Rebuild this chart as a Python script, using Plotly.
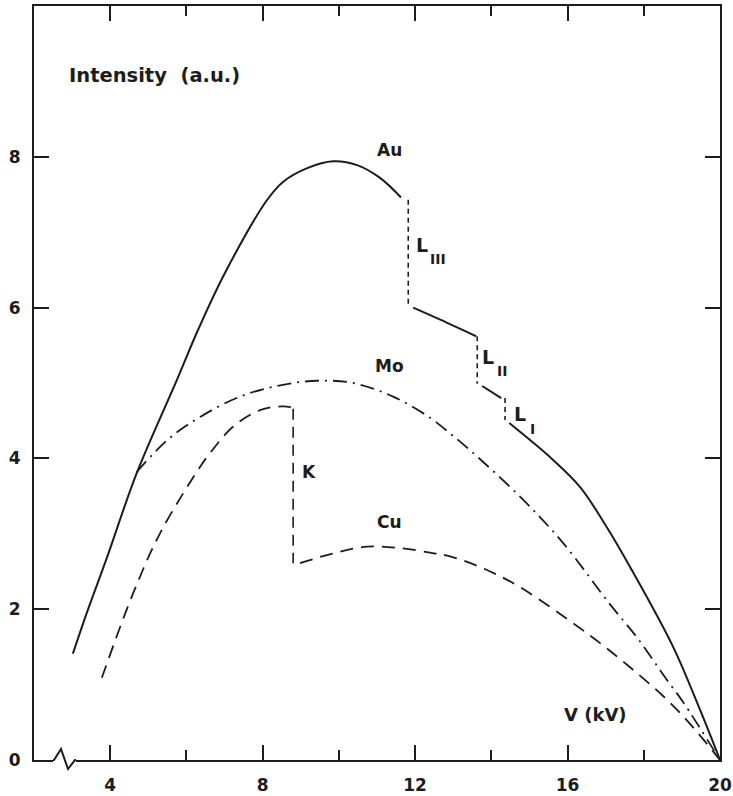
import plotly.graph_objects as go

# ---------------- data ----------------
# Au (solid) -- four segments separated by the L absorption edges
au_seg1_x = [3.02, 3.42, 3.89, 4.70, 5.75, 6.30, 7.01, 8.12, 8.54, 9.17, 9.85, 10.48, 11.08, 11.63]
au_seg1_y = [1.41, 2.00, 2.65, 3.81, 5.04, 5.70, 6.46, 7.43, 7.67, 7.85, 7.94, 7.89, 7.72, 7.46]
au_seg2_x = [11.95, 12.66, 13.60]
au_seg2_y = [6.00, 5.84, 5.62]
au_seg3_x = [13.76, 14.26]
au_seg3_y = [4.96, 4.80]
au_seg4_x = [14.47, 14.76, 15.60, 16.33, 16.99, 17.64, 18.77, 19.48, 20.0]
au_seg4_y = [4.47, 4.35, 3.99, 3.62, 3.12, 2.56, 1.50, 0.66, 0.0]
# Au absorption edges (dashed verticals): x, top, bottom
au_edge_x = [11.82, 13.63, 14.36]
au_edge_top = [7.43, 5.62, 4.80]
au_edge_bot = [6.03, 4.99, 4.51]

# Mo (dash-dot)
mo_x = [4.70, 5.49, 6.36, 7.41, 8.46, 9.43, 10.37, 11.42, 12.39, 12.92, 13.37, 14.76, 15.88, 17.12, 17.83, 18.61, 19.03, 20.0]
mo_y = [3.82, 4.24, 4.55, 4.82, 4.97, 5.03, 5.00, 4.82, 4.54, 4.33, 4.14, 3.49, 2.88, 2.06, 1.62, 1.06, 0.77, 0.0]

# Cu (dashed) -- two segments separated by the K edge
cu_seg1_x = [3.78, 4.60, 5.31, 6.36, 6.62, 7.22, 7.93, 8.50, 8.74]
cu_seg1_y = [1.09, 2.21, 3.01, 3.89, 4.07, 4.42, 4.64, 4.69, 4.68]
cu_seg2_x = [8.98, 9.85, 10.74, 11.61, 12.39, 12.92, 13.84, 14.76, 16.51, 17.64, 18.69, 19.40, 20.0]
cu_seg2_y = [2.61, 2.74, 2.83, 2.81, 2.75, 2.70, 2.53, 2.29, 1.68, 1.23, 0.76, 0.37, 0.0]
cu_edge_x = 8.80
cu_edge_top = 4.66
cu_edge_bot = 2.61

x_tick_vals = [4, 8, 12, 16, 20]
x_minor_vals = [6, 10, 14, 18]
y_tick_vals = [0, 2, 4, 6, 8]

INK = "#1c1c1c"
FONT = "DejaVu Sans"

fig = go.Figure()

def add_line(xs, ys, width, dash, shape="spline"):
    fig.add_trace(go.Scatter(
        x=xs, y=ys, mode="lines",
        line=dict(color=INK, width=width, dash=dash, shape=shape, smoothing=1.0),
        hoverinfo="skip", showlegend=False))

# Au
for sx, sy in [(au_seg1_x, au_seg1_y), (au_seg2_x, au_seg2_y),
               (au_seg3_x, au_seg3_y), (au_seg4_x, au_seg4_y)]:
    add_line(sx, sy, 2.0, "solid")
for ex, et, eb in zip(au_edge_x, au_edge_top, au_edge_bot):
    add_line([ex, ex], [et, eb], 1.6, "5px,4px", shape="linear")

# Mo
add_line(mo_x, mo_y, 1.8, "14px,6px,2px,6px")

# Cu
add_line(cu_seg1_x, cu_seg1_y, 1.8, "13px,8px")
add_line([cu_edge_x, cu_edge_x], [cu_edge_top, cu_edge_bot], 1.6, "11px,7px", shape="linear")
add_line(cu_seg2_x, cu_seg2_y, 1.8, "13px,8px")

# ---------------- layout ----------------
L, R, T, B = 34, 13, 6, 36
W, H = 733, 796
pw, ph = W - L - R, H - T - B

def px2paper(px, py):
    return (px - L) / pw, (H - B - py) / ph

fig.update_layout(
    width=W, height=H,
    margin=dict(l=L, r=R, t=T, b=B, autoexpand=False),
    paper_bgcolor="white", plot_bgcolor="white",
    font=dict(family=FONT, color=INK),
    showlegend=False,
    xaxis=dict(
        range=[2, 20], showgrid=False, zeroline=False, automargin=False,
        showline=True, linecolor=INK, linewidth=2, mirror="ticks",
        tickmode="array", tickvals=x_tick_vals,
        ticks="inside", ticklen=15, tickwidth=1.5, tickcolor=INK,
        minor=dict(tickmode="array", tickvals=x_minor_vals, ticks="inside",
                   ticklen=10, tickwidth=1.5, tickcolor=INK),
        tickfont=dict(family=FONT, size=17, color=INK, weight="bold"),
        ticklabelstandoff=9,
    ),
    yaxis=dict(
        range=[0, 10], showgrid=False, zeroline=False, automargin=False,
        showline=True, linecolor=INK, linewidth=2, mirror="ticks",
        tickmode="array", tickvals=y_tick_vals,
        ticks="inside", ticklen=15, tickwidth=1.5, tickcolor=INK,
        tickfont=dict(family=FONT, size=17, color=INK, weight="bold"),
        ticklabelstandoff=8,
    ),
)

# axis break (zig-zag) on the bottom axis
x0, y0 = px2paper(54, 760)
x1, y1 = px2paper(61, 749)
x2, y2 = px2paper(68, 769)
x3, y3 = px2paper(75, 760)
xa, _ = px2paper(53, 760)
xb, _ = px2paper(76, 760)
fig.add_shape(type="line", xref="paper", yref="paper", x0=xa, x1=xb, y0=0, y1=0,
              line=dict(color="white", width=5), layer="above")
fig.add_shape(type="path", xref="paper", yref="paper",
              path=f"M {xa} 0 L {x0} {y0} L {x1} {y1} L {x2} {y2} L {x3} {y3} L {xb} 0",
              line=dict(color=INK, width=2), layer="above")

def ann(text, x, y, size, xanchor="center"):
    fig.add_annotation(text=text, x=x, y=y, xref="x", yref="y", showarrow=False,
                       xanchor=xanchor, yanchor="middle",
                       font=dict(family=FONT, size=size, color=INK, weight="bold"))

ann("Intensity  (a.u.)", 2.86, 9.08, 19.5, xanchor="left")
ann("Au", 11.32, 8.09, 17)
ann("Mo", 11.34, 5.23, 17)
ann("Cu", 11.34, 3.16, 17)
ann("K", 9.22, 3.82, 17)
ann("V (kV)", 16.72, 0.60, 18)
ann("L", 11.98, 6.83, 19, xanchor="left")
ann("III", 12.34, 6.64, 14, xanchor="left")
ann("L", 13.71, 5.34, 19, xanchor="left")
ann("II", 14.10, 5.16, 14, xanchor="left")
ann("L", 14.55, 4.59, 19, xanchor="left")
ann("I", 14.97, 4.39, 14, xanchor="left")

fig.write_html("out.html")
